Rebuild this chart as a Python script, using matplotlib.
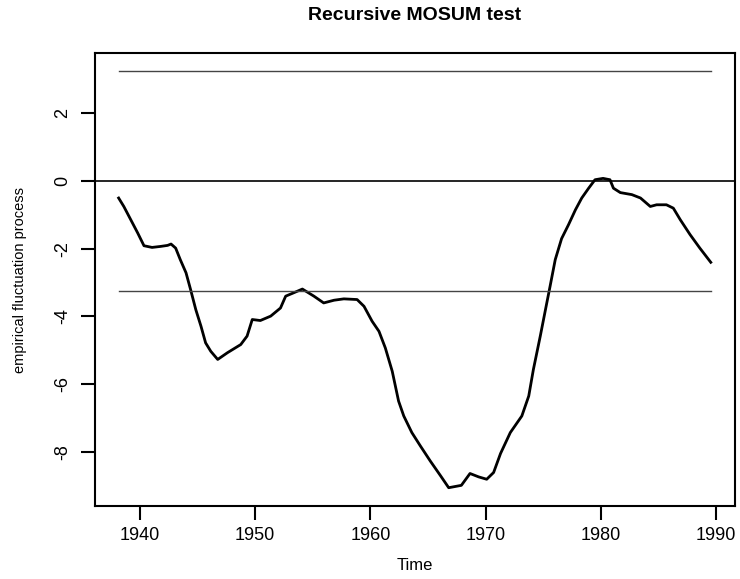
import matplotlib.pyplot as plt

plt.rcParams['font.family'] = ['Liberation Sans', 'DejaVu Sans']

# empirical fluctuation process
years = [1938.15, 1938.6, 1939.2, 1939.8, 1940.35, 1941.05, 1941.8, 1942.4, 1942.7,
         1943.1, 1943.5, 1944.0, 1944.4, 1944.85, 1945.3, 1945.7, 1946.15, 1946.75,
         1947.6, 1948.75, 1949.3, 1949.75, 1950.45, 1951.35, 1952.2, 1952.65, 1953.35,
         1954.1, 1955.1, 1955.95, 1956.85, 1957.7, 1958.85, 1959.45, 1960.15, 1960.75,
         1961.3, 1961.9, 1962.45, 1962.9, 1963.6, 1964.35, 1965.2, 1966.1, 1966.8,
         1967.9, 1968.65, 1969.4, 1970.1, 1970.7, 1971.3, 1972.15, 1973.15, 1973.75,
         1974.15, 1974.75, 1975.2, 1975.6, 1976.05, 1976.6, 1977.2, 1977.8, 1978.35,
         1978.95, 1979.5, 1980.2, 1980.8, 1981.1, 1981.7, 1982.7, 1983.45, 1984.3,
         1984.85, 1985.7, 1986.3, 1986.9, 1987.75, 1988.6, 1989.55]
process = [-0.50, -0.75, -1.14, -1.53, -1.91, -1.96, -1.93, -1.90, -1.86,
           -1.98, -2.32, -2.71, -3.21, -3.80, -4.29, -4.78, -5.03, -5.27,
           -5.07, -4.83, -4.58, -4.09, -4.12, -3.99, -3.75, -3.40, -3.30,
           -3.19, -3.40, -3.60, -3.52, -3.48, -3.50, -3.70, -4.14, -4.44,
           -4.93, -5.62, -6.50, -6.94, -7.43, -7.83, -8.27, -8.71, -9.06,
           -8.99, -8.64, -8.74, -8.81, -8.61, -8.05, -7.43, -6.94, -6.35,
           -5.57, -4.58, -3.80, -3.11, -2.32, -1.70, -1.29, -0.85, -0.50,
           -0.21, 0.04, 0.08, 0.04, -0.21, -0.34, -0.40, -0.50, -0.75,
           -0.70, -0.70, -0.80, -1.14, -1.58, -1.98, -2.40]
boundary = 3.25

fig = plt.figure(figsize=(7.4, 5.79), dpi=100)
ax = fig.add_axes([0.1284, 0.1261, 0.8648, 0.7815])

ax.plot(years, process, color='black', linewidth=2.0)
ax.axhline(0, color='black', linewidth=1.2)
ax.plot([years[0], years[-1]], [boundary, boundary], color='#444444', linewidth=1.0)
ax.plot([years[0], years[-1]], [-boundary, -boundary], color='#444444', linewidth=1.0)

# R style limits: 4% padding around data range
ax.set_xlim(1936.1, 1991.65)
ax.set_ylim(-9.6, 3.77)
ax.set_xticks([1940, 1950, 1960, 1970, 1980, 1990])
ax.set_yticks([-8, -6, -4, -2, 0, 2])
ax.set_yticklabels(['-8', '-6', '-4', '-2', '0', '2'], rotation=90, va='center')

for s in ax.spines.values():
    s.set_linewidth(1.5)
ax.tick_params(direction='out', length=10, width=1.5, labelsize=13)
ax.tick_params(axis='x', pad=5)
ax.tick_params(axis='y', pad=7)

ax.set_title('Recursive MOSUM test', fontsize=14, fontweight='bold', pad=24)
ax.set_xlabel('Time', fontsize=12, labelpad=10)
ax.set_ylabel('empirical fluctuation process', fontsize=10.5, labelpad=20)

fig.savefig('out.png', dpi=100)
